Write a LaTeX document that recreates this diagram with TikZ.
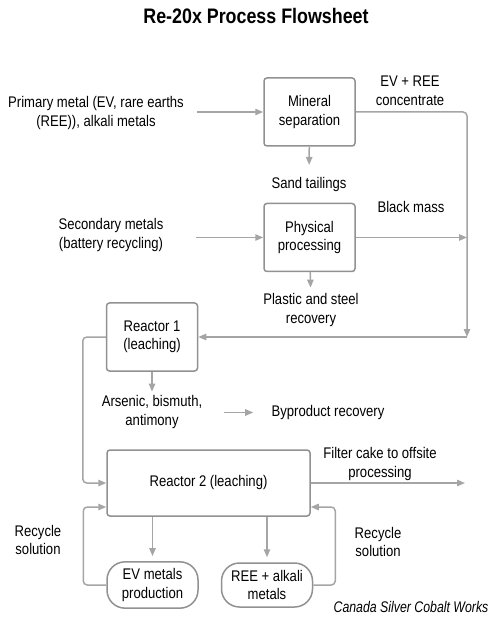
\documentclass[tikz,border=0pt]{standalone}
\usepackage{fontspec}
\setmainfont{Liberation Sans}[FakeStretch=0.85]
\newfontfamily\creditfont{Liberation Sans}[FakeStretch=0.8]
\usetikzlibrary{arrows.meta, positioning, calc}
\definecolor{boxgray}{RGB}{145,145,145}
\definecolor{linegray}{RGB}{165,165,165}

\begin{document}
\begin{tikzpicture}[
            x=0.5pt, y=-0.5pt,
            font=\fontsize{7.7}{9.3}\selectfont,
            box/.style={draw=boxgray, rectangle, rounded corners=1.5pt, minimum height=34pt, minimum width=45.5pt, align=center, line width=0.75pt},
            pill/.style={draw=boxgray, rectangle, rounded corners=9pt, minimum height=22pt, minimum width=45.5pt, align=center, line width=0.75pt},
            lbl/.style={align=center, inner sep=0pt},
            arrow/.style={-{Triangle[length=4pt,width=3.2pt]}, color=linegray, line width=0.75pt}
        ]
    \useasboundingbox (0,0) rectangle (500,619);

    \node[font=\bfseries\fontsize{10.5}{12}\selectfont] (title) at (256,16) {Re-20x Process Flowsheet};

    % feed side
    \node[box] (mineral) at (309.5,112) {Mineral\\separation};
    \node[box, below=28pt of mineral] (phys) {Physical\\processing};
    \node[lbl] (prim) at (96,113) {Primary metal (EV, rare earths\\(REE)), alkali metals};
    \node[lbl] (sec) at (111,235) {Secondary metals\\(battery recycling)};
    \node[lbl] (sand) at (309,184.5) {Sand tailings};
    \node[lbl] (plastic) at (311,310) {Plastic and steel\\recovery};
    \node[lbl] (evree) at (410,90.5) {EV + REE\\concentrate};
    \node[lbl] (black) at (411,206.5) {Black mass};
    \coordinate (drop) at (467,337);

    % leaching
    \node[box] (reactor1) at (152,337) {Reactor 1\\(leaching)};
    \node[lbl] (arsenic) at (152,412) {Arsenic, bismuth,\\antimony};
    \node[lbl] (byprod) at (328,412.5) {Byproduct recovery};
    \node[box, minimum width=101.5pt, minimum height=33pt] (reactor2) at (208.5,483) {Reactor 2 (leaching)};
    \node[lbl] (filter) at (380,464) {Filter cake to offsite\\processing};
    \coordinate (cake) at (465,483);

    % products
    \node[pill] (ev) at (152.5,585) {EV metals\\production};
    \node[pill, right=11pt of ev] (ree) {REE + alkali\\metals};
    \node[lbl] (recl) at (38,540) {Recycle\\solution};
    \node[lbl] (recr) at (378,542) {Recycle\\solution};
    \node[lbl, font=\creditfont\itshape\fontsize{7.7}{9.3}\selectfont] (credit) at (411,607) {Canada Silver Cobalt Works};

    \draw[arrow, shorten <=6.5pt] (prim.east |- mineral.west) -- (mineral.west);
    \draw[arrow, shorten <=16pt] (sec.east |- phys.west) -- (phys.west);
    \draw[arrow, shorten >=6pt] (mineral) -- (sand);
    \draw[arrow, shorten >=2.75pt] (phys) -- (plastic);
    \draw[arrow, rounded corners=2pt] (mineral.east) -| (drop);
    \draw[arrow] (phys.east) -- (phys.east -| drop);
    \draw[arrow] (drop) -- (reactor1.east);

    \draw[arrow, shorten >=1.75pt] (reactor1) -- (arsenic);
    \draw[arrow, shorten <=10.5pt, shorten >=9pt] (arsenic.east |- byprod.west) -- (byprod.west);
    \draw[arrow, rounded corners=2pt] (reactor1.west) -- ++(-23,0) |- (reactor2.west);
    \draw[arrow] (reactor2.east) -- (cake);

    \draw[arrow, shorten >=2.5pt] (reactor2.south -| ev) -- (ev);
    \draw[arrow, shorten >=2.5pt] (reactor2.south -| ree) -- (ree);
    \draw[arrow, rounded corners=2pt] (ev.west) -- ++(-23,0) |- ([yshift=-12pt]reactor2.west);
    \draw[arrow, rounded corners=2pt] (ree.east) -- ++(22,0) |- ([yshift=-12pt]reactor2.east);

\end{tikzpicture}
\end{document}
